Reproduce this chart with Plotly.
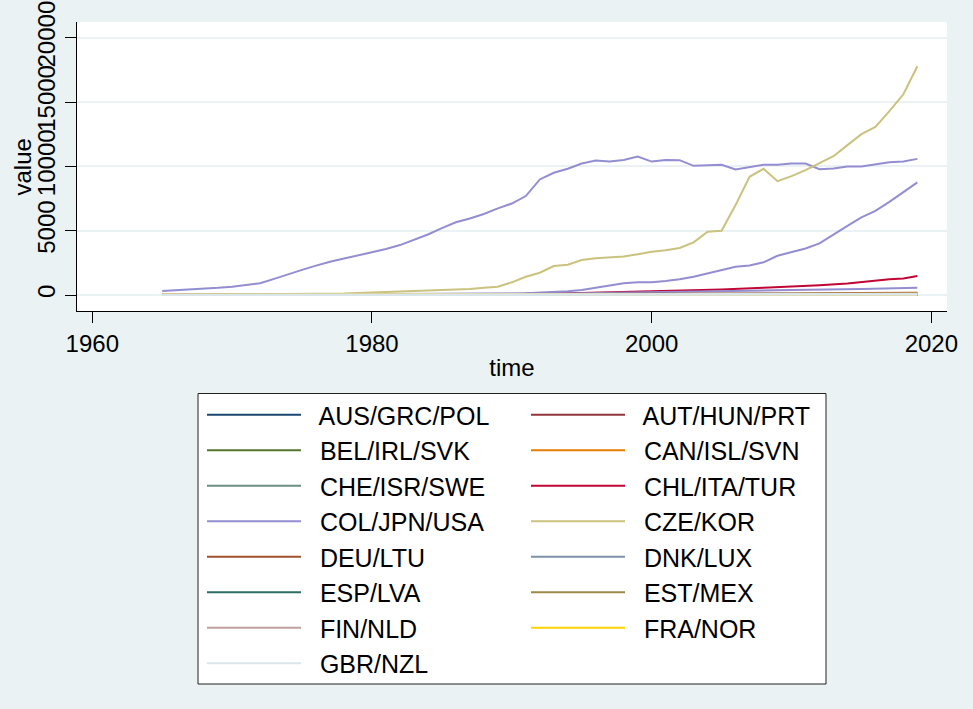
import plotly.graph_objects as go

# ---------------- data ----------------
years_full = list(range(1965, 2020))
years_sparse = [1965, 1970, 1975, 1980, 1985, 1990, 1995, 2000, 2005, 2010, 2015, 2019]
years_tur = [1965, 1970, 1975, 1980, 1985, 1990, 1995, 2000, 2005, 2008, 2010, 2012, 2014, 2016, 2017, 2018, 2019]

jpn = [310, 360, 410, 480, 560, 650, 760, 908, 1250, 1620, 1950, 2280, 2590, 2830, 3070,
       3330, 3570, 3880, 4290, 4700, 5200, 5650, 5950, 6300, 6730, 7110, 7690, 8980, 9500,
       9810, 10220, 10450, 10370, 10500, 10760, 10370, 10500, 10480, 10040, 10070, 10120,
       9760, 9940, 10120, 10120, 10220, 10220, 9780, 9830, 9990, 9990, 10170, 10320, 10370, 10580]
usa = [20, 22, 24, 26, 28, 30, 32, 34, 36, 38, 40, 42, 44, 46, 50, 54, 58, 62, 66, 70,
       75, 80, 90, 100, 110, 120, 140, 180, 220, 300, 390, 570, 750, 910, 985, 985, 1090,
       1220, 1420, 1680, 1940, 2200, 2300, 2540, 3050, 3310, 3620, 4010, 4710, 5380, 6030,
       6540, 7240, 7970, 8750]
kor = [20, 25, 30, 35, 40, 45, 50, 55, 60, 65, 70, 75, 80, 110, 150, 190, 230, 270, 300,
       330, 370, 410, 470, 560, 645, 985, 1420, 1730, 2250, 2350, 2720, 2850, 2950, 3000,
       3160, 3360, 3470, 3650, 4090, 4920, 4990, 6990, 9190, 9810, 8850, 9240, 9700, 10270,
       10790, 11650, 12500, 13070, 14290, 15600, 17780]
tur = [10, 15, 20, 30, 50, 80, 150, 270, 420, 560, 640, 760, 900, 1150, 1220, 1280, 1480]
col = [10, 15, 25, 40, 60, 90, 130, 200, 290, 380, 470, 570]

aus = [15, 18, 20, 25, 30, 35, 40, 45, 55, 65, 75, 85]
grc = [2, 3, 3, 4, 5, 6, 8, 10, 12, 14, 16, 18]
pol = [3, 4, 5, 6, 7, 8, 10, 14, 20, 30, 40, 50]
aut = [10, 12, 14, 16, 18, 22, 28, 35, 45, 60, 75, 100]
hun = [4, 5, 6, 7, 8, 9, 10, 12, 14, 16, 18, 20]
prt = [1, 1, 2, 2, 3, 4, 6, 9, 14, 20, 28, 35]
bel = [12, 14, 16, 18, 20, 24, 28, 32, 38, 45, 52, 60]
irl = [1, 1, 2, 2, 3, 4, 6, 9, 12, 15, 18, 22]
svk = [1, 1, 1, 2, 2, 3, 3, 4, 5, 6, 8, 10]
can = [20, 24, 28, 32, 38, 44, 52, 62, 72, 80, 90, 100]
isl = [0, 0, 0, 0, 1, 1, 1, 1, 2, 2, 2, 3]
svn = [1, 1, 1, 1, 2, 2, 3, 4, 5, 6, 7, 8]
che = [25, 30, 35, 40, 45, 50, 58, 65, 75, 85, 95, 105]
isr = [2, 3, 4, 6, 8, 12, 18, 25, 35, 45, 55, 65]
swe = [20, 24, 28, 32, 36, 42, 50, 58, 66, 74, 82, 90]
chl = [0, 0, 1, 1, 1, 2, 2, 3, 4, 6, 8, 10]
ita = [8, 10, 12, 14, 16, 18, 20, 22, 24, 26, 28, 30]
cze = [1, 1, 2, 2, 3, 3, 4, 6, 10, 15, 20, 25]
deu = [30, 35, 40, 45, 50, 60, 70, 85, 100, 120, 150, 180]
ltu = [0, 0, 0, 0, 1, 1, 2, 3, 4, 5, 6, 7]
dnk = [5, 6, 7, 8, 9, 10, 12, 14, 16, 18, 20, 22]
lux = [1, 1, 1, 1, 1, 2, 2, 2, 3, 3, 3, 4]
esp = [5, 6, 8, 10, 12, 16, 20, 26, 34, 42, 50, 58]
lva = [0, 0, 0, 1, 1, 1, 2, 2, 3, 3, 4, 4]
est = [0, 0, 0, 0, 1, 1, 1, 2, 2, 3, 4, 5]
mex = [2, 3, 4, 5, 6, 8, 10, 14, 18, 24, 30, 36]
fin = [6, 7, 8, 9, 10, 12, 14, 18, 22, 26, 30, 34]
nld = [15, 18, 20, 22, 25, 28, 32, 36, 40, 45, 50, 55]
fra = [40, 45, 50, 55, 60, 65, 70, 75, 80, 85, 90, 95]
nor = [3, 4, 5, 6, 7, 8, 9, 10, 12, 14, 16, 18]
gbr = [35, 40, 45, 50, 55, 60, 65, 70, 75, 80, 85, 90]
nzl = [2, 2, 3, 3, 4, 5, 6, 7, 8, 9, 10, 11]

group_labels = ["AUS/GRC/POL", "AUT/HUN/PRT", "BEL/IRL/SVK", "CAN/ISL/SVN", "CHE/ISR/SWE",
                "CHL/ITA/TUR", "COL/JPN/USA", "CZE/KOR", "DEU/LTU", "DNK/LUX", "ESP/LVA",
                "EST/MEX", "FIN/NLD", "FRA/NOR", "GBR/NZL"]
group_members = [
    [(years_sparse, aus), (years_sparse, grc), (years_sparse, pol)],
    [(years_sparse, aut), (years_sparse, hun), (years_sparse, prt)],
    [(years_sparse, bel), (years_sparse, irl), (years_sparse, svk)],
    [(years_sparse, can), (years_sparse, isl), (years_sparse, svn)],
    [(years_sparse, che), (years_sparse, isr), (years_sparse, swe)],
    [(years_sparse, chl), (years_sparse, ita), (years_tur, tur)],
    [(years_sparse, col), (years_full, jpn), (years_full, usa)],
    [(years_sparse, cze), (years_full, kor)],
    [(years_sparse, deu), (years_sparse, ltu)],
    [(years_sparse, dnk), (years_sparse, lux)],
    [(years_sparse, esp), (years_sparse, lva)],
    [(years_sparse, est), (years_sparse, mex)],
    [(years_sparse, fin), (years_sparse, nld)],
    [(years_sparse, fra), (years_sparse, nor)],
    [(years_sparse, gbr), (years_sparse, nzl)],
]
colors = ["#1A476F", "#90353B", "#55752F", "#E37E00", "#6E8E84", "#C10534", "#938DD2",
          "#CAC27E", "#A0522D", "#7B92A8", "#2D6D66", "#9C8847", "#BFA19C", "#FFD200", "#D9E6EB"]

x_ticks = [1960, 1980, 2000, 2020]
y_ticks = [0, 5000, 10000, 15000, 20000]

# ---------------- figure ----------------
fig = go.Figure()
for label, members, c in zip(group_labels, group_members, colors):
    xs, ys = [], []
    for yrs, vals in members:
        xs += list(yrs) + [None]
        ys += list(vals) + [None]
    fig.add_trace(go.Scatter(x=xs, y=ys, mode="lines", name="  " + label,
                             line=dict(color=c, width=2), connectgaps=False))

FONT = "Liberation Sans, Arial, sans-serif"
BG = "#EAF2F3"
W, H = 973, 709
L, R, T, B = 77, 26, 22, 398
PW, PH = W - L - R, H - T - B


def px_x(p):
    return (p - L) / PW


def px_y(p):
    return (H - B - p) / PH


fig.update_layout(
    width=W, height=H,
    paper_bgcolor=BG, plot_bgcolor="white",
    margin=dict(l=L, r=R, t=T, b=B, autoexpand=False),
    font=dict(family=FONT, size=24, color="black"),
    showlegend=True,
    legend=dict(
        orientation="h", xref="container", yref="container",
        x=202 / W, xanchor="left", y=1 - 392 / H, yanchor="top",
        bgcolor="rgba(0,0,0,0)", borderwidth=0,
        font=dict(family=FONT, size=25, color="black"),
        itemwidth=94, entrywidth=215, tracegroupgap=0,
        traceorder="normal",
    ),
    shapes=[dict(type="rect", xref="paper", yref="paper", layer="below",
                 x0=px_x(198), x1=px_x(826), y0=px_y(684), y1=px_y(393.5),
                 fillcolor="white", line=dict(color="#222", width=1))],
    annotations=[dict(text="value", xref="paper", yref="paper", x=px_x(22), y=0.5,
                      xanchor="center", yanchor="middle", textangle=-90, showarrow=False,
                      font=dict(family=FONT, size=24, color="black"))],
    xaxis=dict(
        range=[1958.905, 2021.12], tickvals=x_ticks, ticktext=[str(v) for v in x_ticks],
        showgrid=False, zeroline=False, showline=True, linecolor="black", linewidth=1,
        ticks="outside", ticklen=11, tickwidth=1, tickcolor="black", automargin=False,
        title=dict(text="time", standoff=3, font=dict(size=24)),
        tickfont=dict(size=24),
    ),
    yaxis=dict(
        range=[-1244, 21220], tickvals=y_ticks, ticktext=[str(v) for v in y_ticks],
        showgrid=True, gridcolor=BG, gridwidth=2, zeroline=False,
        showline=True, linecolor="black", linewidth=1,
        ticks="outside", ticklen=11, tickwidth=1, tickcolor="black", automargin=False,
        tickangle=-90,
        tickfont=dict(size=24),
    ),
)

fig.write_html("out.html",
               config={"displayModeBar": False, "staticPlot": True},
               post_script="document.body.style.margin='0';document.body.style.padding='0';"
                           "document.body.style.overflow='hidden';")
